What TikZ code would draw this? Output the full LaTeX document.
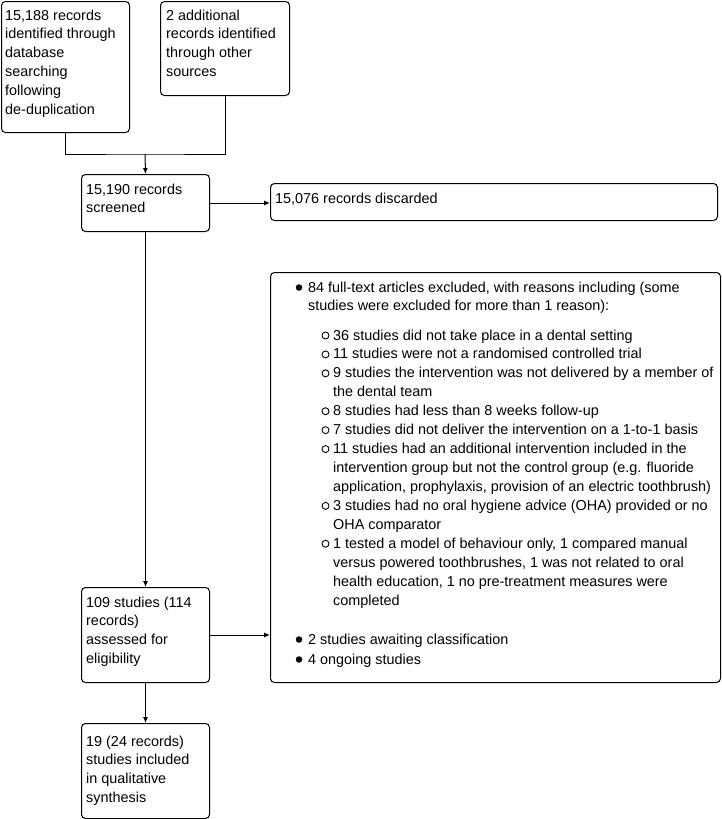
\documentclass[tikz,border=0pt]{standalone}
\usepackage{fontspec}
\setmainfont{Liberation Sans}
\usetikzlibrary{arrows.meta}
\newcommand\mlines[1]{\vtop{\baselineskip=18.93pt\lineskiplimit=-20pt\halign{##\hfil\cr#1\crcr}}}
\begin{document}
\begin{tikzpicture}[x=1pt,y=-1pt,
  box/.style={draw, line width=1pt, rounded corners=4pt, inner sep=0pt, anchor=north west},
  txt/.style={anchor=base west, inner sep=0pt, font=\fontsize{14.4}{18.93}\selectfont},
  conn/.style={line width=1pt},
  arr/.style={line width=1pt, -{Latex[length=6pt,width=5pt]}},
  bul/.style={circle, fill, inner sep=0pt, minimum size=6.5pt},
  subbul/.style={circle, draw, line width=0.9pt, inner sep=0pt, minimum size=7pt}]
\useasboundingbox (0,0) rectangle (722,819);

% boxes
\node[box, minimum width=128pt, minimum height=131pt] (A) at (1,1) {};
\node[box, minimum width=129pt, minimum height=94pt] (B) at (160,1) {};
\node[box, minimum width=128pt, minimum height=57pt] (C) at (81,174) {};
\node[box, minimum width=447pt, minimum height=37pt] (D) at (270,183) {};
\node[box, minimum width=450pt, minimum height=410pt] (E) at (270,272) {};
\node[box, minimum width=128pt, minimum height=95pt] (F) at (81,587) {};
\node[box, minimum width=128pt, minimum height=95pt] (G) at (81,723) {};

% texts
\node[txt] (At) at (5,20) {\mlines{15,188 records\cr identified through\cr database\cr searching\cr following\cr de-duplication}};
\node[txt] (Bt) at (166,20) {\mlines{2 additional\cr records identified\cr through other\cr sources}};
\node[txt] (Ct) at (86,194) {\mlines{15,190 records\cr screened}};
\node[txt] (Dt) at (275,203) {15,076 records discarded};
\node[txt] (Ft) at (86,607) {\mlines{109 studies (114\cr records)\cr assessed for\cr eligibility}};
\node[txt] (Gt) at (86,746) {\mlines{19 (24 records)\cr studies included\cr in qualitative\cr synthesis}};

% exclusion box contents
\node[bul] (b1) at (299,287.5) {};
\node[txt] (E1) at (308,292) {\mlines{84 full-text articles excluded, with reasons including (some\cr studies were excluded for more than 1 reason):}};

\def\sb#1{340+#1*18.93}
\node[subbul] (c1) at (325.5,{\sb{0}-4.5}) {};
\node[txt] (s1) at (333,{\sb{0}}) {36 studies did not take place in a dental setting};
\node[subbul] (c2) at (325.5,{\sb{1}-4.5}) {};
\node[txt] (s2) at (333,{\sb{1}}) {11 studies were not a randomised controlled trial};
\node[subbul] (c3) at (325.5,{\sb{2}-4.5}) {};
\node[txt] (s3) at (333,{\sb{2}}) {\mlines{9 studies the intervention was not delivered by a member of\cr the dental team}};
\node[subbul] (c4) at (325.5,{\sb{4}-4.5}) {};
\node[txt] (s4) at (333,{\sb{4}}) {8 studies had less than 8 weeks follow-up};
\node[subbul] (c5) at (325.5,{\sb{5}-4.5}) {};
\node[txt] (s5) at (333,{\sb{5}}) {7 studies did not deliver the intervention on a 1-to-1 basis};
\node[subbul] (c6) at (325.5,{\sb{6}-4.5}) {};
\node[txt] (s6) at (333,{\sb{6}}) {\mlines{11 studies had an additional intervention included in the\cr intervention group but not the control group (e.g. fluoride\cr application, prophylaxis, provision of an electric toothbrush)}};
\node[subbul] (c7) at (325.5,{\sb{9}-4.5}) {};
\node[txt] (s7) at (333,{\sb{9}}) {\mlines{3 studies had no oral hygiene advice (OHA) provided or no\cr OHA comparator}};
\node[subbul] (c8) at (325.5,{\sb{11}-4.5}) {};
\node[txt] (s8) at (333,{\sb{11}}) {\mlines{1 tested a model of behaviour only, 1 compared manual\cr versus powered toothbrushes, 1 was not related to oral\cr health education, 1 no pre-treatment measures were\cr completed}};

\node[bul] (b2) at (299,639.5) {};
\node[txt] (E2) at (308,644) {2 studies awaiting classification};
\node[bul] (b3) at (299,659.5) {};
\node[txt] (E3) at (308,664) {4 ongoing studies};

% connectors
\coordinate (J) at (145,154);
\draw[conn] (A.south) |- (J) -| (B.south);
\draw[arr] (J) -- (C.north);
\draw[arr] (C.east) -- (C.east -| D.west);
\draw[arr] (C.south) -- (F.north);
\draw[arr] (F.east) -- (F.east -| E.west);
\draw[arr] (F.south) -- (G.north);
\end{tikzpicture}
\end{document}
